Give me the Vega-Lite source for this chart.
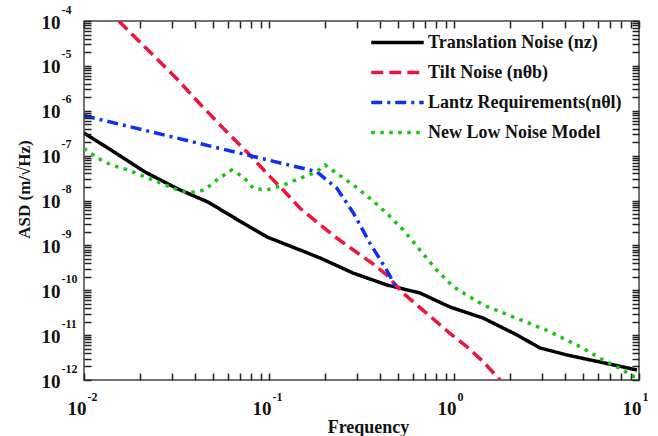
{
  "$schema": "https://vega.github.io/schema/vega-lite/v6.json",
  "width": 555,
  "height": 359,
  "autosize": {"type": "none"},
  "padding": {"left": 84, "top": 21, "right": 19, "bottom": 56},
  "background": "white",
  "config": {
    "view": {"stroke": "#444", "strokeWidth": 1.5},
    "axis": {"grid": false, "domain": false, "labelFont": "Liberation Serif", "titleFont": "Liberation Serif", "labelColor": "#111", "titleColor": "#111", "labelFontWeight": "bold", "titleFontWeight": "bold", "labelFlush": false, "labelOverlap": false},
    "legend": {"orient": "none", "legendX": 293, "legendY": 1, "labelFont": "Liberation Serif", "labelFontSize": 18, "labelFontWeight": "bold", "labelColor": "#111", "labelLimit": 400, "symbolType": "M-1.4,0H1.4", "symbolSize": 1404, "symbolStrokeWidth": 3.5, "labelOffset": 10, "rowPadding": 0}
  },
  "data": {
    "values": [
      {"s": "Translation Noise (nz)", "f": 0.01, "a": 3.19e-7},
      {"s": "Translation Noise (nz)", "f": 0.014, "a": 1.334e-7},
      {"s": "Translation Noise (nz)", "f": 0.02138, "a": 4.315e-8},
      {"s": "Translation Noise (nz)", "f": 0.03221, "a": 1.803e-8},
      {"s": "Translation Noise (nz)", "f": 0.04677, "a": 9.27e-9},
      {"s": "Translation Noise (nz)", "f": 0.06383, "a": 4.285e-9},
      {"s": "Translation Noise (nz)", "f": 0.0975, "a": 1.538e-9},
      {"s": "Translation Noise (nz)", "f": 0.1472, "a": 7.89e-10},
      {"s": "Translation Noise (nz)", "f": 0.1888, "a": 5.24e-10},
      {"s": "Translation Noise (nz)", "f": 0.2844, "a": 2.42e-10},
      {"s": "Translation Noise (nz)", "f": 0.4345, "a": 1.309e-10},
      {"s": "Translation Noise (nz)", "f": 0.6546, "a": 8.69e-11},
      {"s": "Translation Noise (nz)", "f": 0.9506, "a": 4.236e-11},
      {"s": "Translation Noise (nz)", "f": 1.4355, "a": 2.404e-11},
      {"s": "Translation Noise (nz)", "f": 2.193, "a": 1.007e-11},
      {"s": "Translation Noise (nz)", "f": 2.917, "a": 5.164e-12},
      {"s": "Translation Noise (nz)", "f": 4.083, "a": 3.606e-12},
      {"s": "Translation Noise (nz)", "f": 6.152, "a": 2.518e-12},
      {"s": "Translation Noise (nz)", "f": 8.204, "a": 1.95e-12},
      {"s": "Translation Noise (nz)", "f": 9.75, "a": 1.671e-12},
      {"s": "Tilt Noise (nθb)", "f": 0.01542, "a": 1.0e-4},
      {"s": "Tilt Noise (nθb)", "f": 0.02128, "a": 2.673e-5},
      {"s": "Tilt Noise (nθb)", "f": 0.03221, "a": 4.842e-6},
      {"s": "Tilt Noise (nθb)", "f": 0.04285, "a": 1.343e-6},
      {"s": "Tilt Noise (nθb)", "f": 0.05781, "a": 3.724e-7},
      {"s": "Tilt Noise (nθb)", "f": 0.07889, "a": 1.033e-7},
      {"s": "Tilt Noise (nθb)", "f": 0.09727, "a": 4.036e-8},
      {"s": "Tilt Noise (nθb)", "f": 0.1194, "a": 1.714e-8},
      {"s": "Tilt Noise (nθb)", "f": 0.1472, "a": 6.699e-9},
      {"s": "Tilt Noise (nθb)", "f": 0.1841, "a": 3.155e-9},
      {"s": "Tilt Noise (nθb)", "f": 0.2323, "a": 1.459e-9},
      {"s": "Tilt Noise (nθb)", "f": 0.2858, "a": 7.889e-10},
      {"s": "Tilt Noise (nθb)", "f": 0.3516, "a": 4.325e-10},
      {"s": "Tilt Noise (nθb)", "f": 0.4325, "a": 2.188e-10},
      {"s": "Tilt Noise (nθb)", "f": 0.5321, "a": 8.551e-11},
      {"s": "Tilt Noise (nθb)", "f": 0.9506, "a": 1.099e-11},
      {"s": "Tilt Noise (nθb)", "f": 1.172, "a": 5.521e-12},
      {"s": "Tilt Noise (nθb)", "f": 1.439, "a": 2.559e-12},
      {"s": "Tilt Noise (nθb)", "f": 1.774, "a": 1.0e-12},
      {"s": "Lantz Requirements(nθl)", "f": 0.01, "a": 7.762e-7},
      {"s": "Lantz Requirements(nθl)", "f": 0.1811, "a": 4.385e-8},
      {"s": "Lantz Requirements(nθl)", "f": 0.2051, "a": 2.864e-8},
      {"s": "Lantz Requirements(nθl)", "f": 0.2323, "a": 1.901e-8},
      {"s": "Lantz Requirements(nθl)", "f": 0.2858, "a": 5.26e-9},
      {"s": "Lantz Requirements(nθl)", "f": 0.3516, "a": 1.112e-9},
      {"s": "Lantz Requirements(nθl)", "f": 0.4325, "a": 2.825e-10},
      {"s": "Lantz Requirements(nθl)", "f": 0.4898, "a": 1.107e-10},
      {"s": "New Low Noise Model", "f": 0.01, "a": 1.455e-7},
      {"s": "New Low Noise Model", "f": 0.01191, "a": 8.71e-8},
      {"s": "New Low Noise Model", "f": 0.01406, "a": 6.18e-8},
      {"s": "New Low Noise Model", "f": 0.0173, "a": 4.786e-8},
      {"s": "New Low Noise Model", "f": 0.02128, "a": 3.388e-8},
      {"s": "New Low Noise Model", "f": 0.02618, "a": 2.415e-8},
      {"s": "New Low Noise Model", "f": 0.03221, "a": 1.714e-8},
      {"s": "New Low Noise Model", "f": 0.03741, "a": 1.493e-8},
      {"s": "New Low Noise Model", "f": 0.04487, "a": 1.714e-8},
      {"s": "New Low Noise Model", "f": 0.05212, "a": 2.864e-8},
      {"s": "New Low Noise Model", "f": 0.06281, "a": 4.786e-8},
      {"s": "New Low Noise Model", "f": 0.07261, "a": 3.388e-8},
      {"s": "New Low Noise Model", "f": 0.08222, "a": 1.871e-8},
      {"s": "New Low Noise Model", "f": 0.09727, "a": 1.714e-8},
      {"s": "New Low Noise Model", "f": 0.1194, "a": 2.213e-8},
      {"s": "New Low Noise Model", "f": 0.1472, "a": 3.126e-8},
      {"s": "New Low Noise Model", "f": 0.1811, "a": 4.385e-8},
      {"s": "New Low Noise Model", "f": 0.2009, "a": 6.18e-8},
      {"s": "New Low Noise Model", "f": 0.2323, "a": 4.036e-8},
      {"s": "New Low Noise Model", "f": 0.2858, "a": 2.213e-8},
      {"s": "New Low Noise Model", "f": 0.3516, "a": 1.119e-8},
      {"s": "New Low Noise Model", "f": 0.4325, "a": 5.188e-9},
      {"s": "New Low Noise Model", "f": 0.5321, "a": 2.203e-9},
      {"s": "New Low Noise Model", "f": 0.6546, "a": 7.889e-10},
      {"s": "New Low Noise Model", "f": 0.8054, "a": 2.825e-10},
      {"s": "New Low Noise Model", "f": 0.9908, "a": 1.2e-10},
      {"s": "New Low Noise Model", "f": 1.172, "a": 7.834e-11},
      {"s": "New Low Noise Model", "f": 1.439, "a": 4.688e-11},
      {"s": "New Low Noise Model", "f": 1.774, "a": 3.327e-11},
      {"s": "New Low Noise Model", "f": 2.183, "a": 2.371e-11},
      {"s": "New Low Noise Model", "f": 2.685, "a": 1.683e-11},
      {"s": "New Low Noise Model", "f": 3.304, "a": 1.191e-11},
      {"s": "New Low Noise Model", "f": 4.064, "a": 7.78e-12},
      {"s": "New Low Noise Model", "f": 5.0, "a": 5.082e-12},
      {"s": "New Low Noise Model", "f": 6.152, "a": 3.041e-12},
      {"s": "New Low Noise Model", "f": 7.568, "a": 1.977e-12},
      {"s": "New Low Noise Model", "f": 9.506, "a": 1.148e-12},
      {"s": "New Low Noise Model", "f": 10, "a": 1.02e-12}
    ]
  },
  "layer": [
    {
      "mark": {"type": "line", "strokeWidth": 3.5, "clip": true, "strokeCap": "butt"},
      "encoding": {
        "x": {"field": "f", "type": "quantitative", "scale": {"type": "log", "domain": [0.01, 10], "nice": false},
          "axis": {"orient": "bottom", "zindex": 1, "offset": -7, "values": [0.01, 0.02, 0.03, 0.04, 0.05, 0.06, 0.07, 0.08, 0.09, 0.1, 0.2, 0.3, 0.4, 0.5, 0.6, 0.7, 0.8, 0.9, 1, 2, 3, 4, 5, 6, 7, 8, 9, 10],
            "labelExpr": "abs(log(datum.value)/LN10 - round(log(datum.value)/LN10)) < 0.001 ? '10' : ''", "ticks": true, "tickSize": 7, "tickColor": "#222", "tickWidth": 1.5, "tickOpacity": 1, "labelAlign": "right", "labelOffset": 2, "labelBaseline": "top", "labelPadding": 19, "labelFontSize": 19,
            "title": "Frequency", "titleFontSize": 18, "titleX": 284, "titleY": 59, "titleBaseline": "alphabetic", "titleAnchor": "middle"}},
        "y": {"field": "a", "type": "quantitative", "scale": {"type": "log", "domain": [1e-12, 1e-4], "nice": false},
          "axis": {"orient": "left", "zindex": 1, "offset": -7, "values": [1e-12, 2e-12, 3e-12, 4e-12, 5e-12, 6e-12, 7e-12, 8e-12, 9e-12, 1e-11, 2e-11, 3e-11, 4e-11, 5e-11, 6e-11, 7e-11, 8e-11, 9e-11, 1e-10, 2e-10, 3e-10, 4e-10, 5e-10, 6e-10, 7e-10, 8e-10, 9e-10, 1e-9, 2e-9, 3e-9, 4e-9, 5e-9, 6e-9, 7e-9, 8e-9, 9e-9, 1e-8, 2e-8, 3e-8, 4e-8, 5e-8, 6e-8, 7e-8, 8e-8, 9e-8, 1e-7, 2e-7, 3e-7, 4e-7, 5e-7, 6e-7, 7e-7, 8e-7, 9e-7, 1e-6, 2e-6, 3e-6, 4e-6, 5e-6, 6e-6, 7e-6, 8e-6, 9e-6, 1e-5, 2e-5, 3e-5, 4e-5, 5e-5, 6e-5, 7e-5, 8e-5, 9e-5, 1e-4],
            "labelExpr": "abs(log(datum.value)/LN10 - round(log(datum.value)/LN10)) < 0.001 ? '10' : ''", "ticks": true, "tickSize": 7, "tickColor": "#222", "tickWidth": 1.5, "tickOpacity": 1, "labelAlign": "right", "labelBaseline": "middle", "labelPadding": 24, "labelOffset": 1, "labelFontSize": 19,
            "title": "ASD (m/√Hz)", "titleFontSize": 17, "titleX": -67, "titleY": 168, "titleBaseline": "middle", "titleAngle": 270, "titleAnchor": "middle"}},
        "color": {"field": "s", "type": "nominal", "title": null,
          "scale": {"domain": ["Translation Noise (nz)", "Tilt Noise (nθb)", "Lantz Requirements(nθl)", "New Low Noise Model"], "range": ["#000000", "#f0143c", "#0a32f5", "#19c319"]}},
        "strokeDash": {"field": "s", "type": "nominal", "title": null,
          "scale": {"domain": ["Translation Noise (nz)", "Tilt Noise (nθb)", "Lantz Requirements(nθl)", "New Low Noise Model"], "range": [[1, 0], [12, 6], [11, 5, 3, 5], [3.5, 5.5]]}}
      }
    },
    {
      "mark": {"type": "line", "strokeOpacity": 0},
      "encoding": {
        "x": {"field": "f", "type": "quantitative", "scale": {"type": "log", "domain": [0.01, 10], "nice": false},
          "axis": {"orient": "bottom", "values": [0.01, 0.1, 1, 10], "labelExpr": "'' + round(log(datum.value)/LN10)", "ticks": false, "labelAlign": "left", "labelOffset": 3, "labelBaseline": "top", "labelPadding": 11, "labelFontSize": 12, "title": null}},
        "y": {"field": "a", "type": "quantitative", "scale": {"type": "log", "domain": [1e-12, 1e-4], "nice": false},
          "axis": {"orient": "left", "values": [1e-12, 1e-11, 1e-10, 1e-9, 1e-8, 1e-7, 1e-6, 1e-5, 1e-4], "labelExpr": "'' + round(log(datum.value)/LN10)", "ticks": false, "labelAlign": "left", "labelBaseline": "middle", "labelPadding": 23, "labelOffset": -12, "labelFontSize": 12, "title": null}}
      }
    },
    {
      "mark": {"type": "line", "strokeOpacity": 0},
      "encoding": {
        "x": {"field": "f", "type": "quantitative", "scale": {"type": "log", "domain": [0.01, 10], "nice": false},
          "axis": {"orient": "top", "zindex": 1, "offset": -7, "values": [0.01, 0.02, 0.03, 0.04, 0.05, 0.06, 0.07, 0.08, 0.09, 0.1, 0.2, 0.3, 0.4, 0.5, 0.6, 0.7, 0.8, 0.9, 1, 2, 3, 4, 5, 6, 7, 8, 9, 10], "labelExpr": "''", "ticks": true, "tickSize": 7, "tickColor": "#222", "tickWidth": 1.5, "tickOpacity": 1, "title": null}},
        "y": {"field": "a", "type": "quantitative", "scale": {"type": "log", "domain": [1e-12, 1e-4], "nice": false},
          "axis": {"orient": "right", "zindex": 1, "offset": -7, "values": [1e-12, 2e-12, 3e-12, 4e-12, 5e-12, 6e-12, 7e-12, 8e-12, 9e-12, 1e-11, 2e-11, 3e-11, 4e-11, 5e-11, 6e-11, 7e-11, 8e-11, 9e-11, 1e-10, 2e-10, 3e-10, 4e-10, 5e-10, 6e-10, 7e-10, 8e-10, 9e-10, 1e-9, 2e-9, 3e-9, 4e-9, 5e-9, 6e-9, 7e-9, 8e-9, 9e-9, 1e-8, 2e-8, 3e-8, 4e-8, 5e-8, 6e-8, 7e-8, 8e-8, 9e-8, 1e-7, 2e-7, 3e-7, 4e-7, 5e-7, 6e-7, 7e-7, 8e-7, 9e-7, 1e-6, 2e-6, 3e-6, 4e-6, 5e-6, 6e-6, 7e-6, 8e-6, 9e-6, 1e-5, 2e-5, 3e-5, 4e-5, 5e-5, 6e-5, 7e-5, 8e-5, 9e-5, 1e-4], "labelExpr": "''", "ticks": true, "tickSize": 7, "tickColor": "#222", "tickWidth": 1.5, "tickOpacity": 1, "title": null}}
      }
    }
  ],
  "resolve": {"axis": {"x": "independent", "y": "independent"}}
}
